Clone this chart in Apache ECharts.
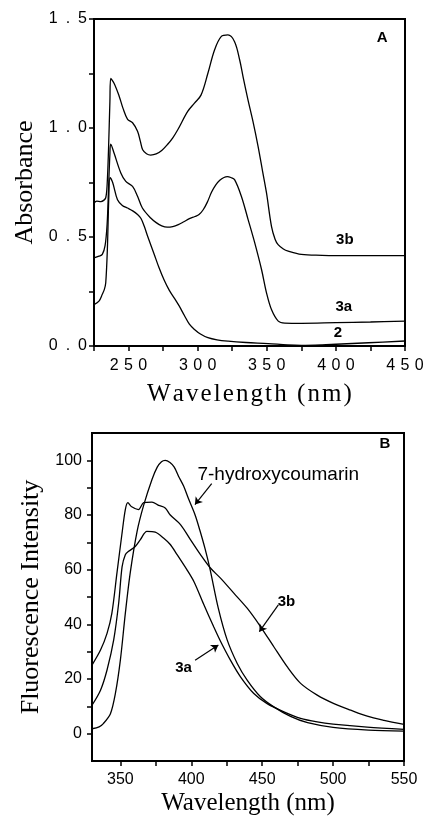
<!DOCTYPE html>
<html><head><meta charset="utf-8">
<script src="https://cdn.jsdelivr.net/npm/echarts@6/dist/echarts.min.js"></script>
<style>html,body{margin:0;padding:0;background:#fff}#c{width:423px;height:823px}</style>
</head><body><div id="c"></div>
<script>
// ---- Panel A: UV-Vis absorbance ----
const uvX3b = [225, 227, 230, 232, 233.5, 234.5, 235.5, 236.5, 237.1, 239.5, 243.2, 246, 249.3, 252.9, 256.5, 258.5, 260.2, 263, 266, 270, 274, 278, 282, 285.6, 292.8, 297.7, 302.5, 307.4, 312.2, 317, 321.9, 326.7, 330.4, 333, 336.4, 340, 343.7, 347, 349.8, 353.4, 356, 358.2, 362, 365.5, 375, 390, 400, 420, 450];
const uvY3b = [0.655, 0.665, 0.662, 0.668, 0.68, 0.74, 0.90, 1.12, 1.227, 1.205, 1.146, 1.09, 1.04, 1.024, 0.985, 0.94, 0.90, 0.882, 0.876, 0.881, 0.897, 0.923, 0.955, 0.992, 1.076, 1.114, 1.152, 1.251, 1.358, 1.419, 1.427, 1.396, 1.312, 1.23, 1.129, 1.03, 0.916, 0.80, 0.702, 0.549, 0.49, 0.465, 0.445, 0.435, 0.42, 0.416, 0.415, 0.415, 0.415];
const uvX3a = [225, 228.6, 231, 233, 234.5, 235.5, 236.5, 237.1, 239.5, 244.4, 248, 252.9, 256.5, 260, 266, 270, 274, 278, 282, 286, 290, 294, 298, 301, 304, 307, 310, 313, 316, 319, 321.5, 324, 326.7, 331.6, 336.5, 341.3, 346.2, 349.8, 353.4, 358.3, 363, 375, 400, 425, 450];
const uvY3a = [0.404, 0.412, 0.42, 0.46, 0.56, 0.72, 0.88, 0.926, 0.885, 0.794, 0.755, 0.732, 0.687, 0.633, 0.587, 0.566, 0.551, 0.545, 0.548, 0.557, 0.57, 0.584, 0.594, 0.603, 0.625, 0.66, 0.705, 0.738, 0.76, 0.773, 0.777, 0.773, 0.763, 0.687, 0.58, 0.473, 0.351, 0.244, 0.167, 0.114, 0.105, 0.104, 0.107, 0.11, 0.114];
const uvX2 = [225, 228.6, 231, 232.5, 233.5, 234.7, 235.7, 236.6, 238.5, 242, 245.5, 249.2, 253, 256.5, 259, 261.3, 264, 268.6, 272, 275.9, 279.5, 283.1, 286.5, 290.4, 294, 297.7, 302, 307.4, 314, 322, 335, 351, 365, 375, 390, 400, 423.6, 450];
const uvY2 = [0.19, 0.206, 0.237, 0.26, 0.29, 0.45, 0.68, 0.772, 0.75, 0.671, 0.645, 0.633, 0.62, 0.603, 0.585, 0.55, 0.50, 0.42, 0.36, 0.30, 0.255, 0.22, 0.185, 0.14, 0.10, 0.076, 0.055, 0.038, 0.028, 0.022, 0.016, 0.011, 0.005, 0.003, 0.005, 0.008, 0.015, 0.023];

// ---- Panel B: fluorescence ----
const flX7hc = [330, 335, 338, 343, 346.5, 350, 353.5, 357, 361.8, 366.4, 372.3, 376, 379, 381.6, 385, 388, 391, 394.6, 398, 402.7, 406, 409.8, 413.3, 419, 425.3, 432.4, 439.4, 448.8, 458.2, 470, 482, 500, 525, 550];
const fl7hc = [1.8, 2.5, 3.7, 7.3, 14.7, 26.9, 44, 59, 74, 83.5, 93, 97.5, 99.5, 100, 99.2, 97.5, 94.2, 90.6, 86, 80, 74.5, 67.5, 60, 46, 34.3, 25.7, 19.6, 13.5, 9.8, 6.3, 4.0, 2.3, 1.3, 0.9];
const flX3b = [330, 336, 340.6, 344, 347.6, 351.2, 353.5, 355.3, 358, 362.8, 366.4, 372.3, 377, 381.6, 385.2, 392.4, 399.4, 406.5, 413.5, 420.6, 430, 439.4, 448.8, 458.2, 467.6, 477.1, 488.8, 500.6, 512.4, 524.1, 535.9, 550];
const fl3b = [25.1, 30.6, 36.7, 44, 58.8, 73.4, 82, 84.5, 83, 82, 84.5, 84.7, 83.5, 82.6, 80, 76.5, 71, 65.5, 60.6, 56.9, 51.4, 45.9, 39.2, 31.8, 24.5, 18.4, 14.1, 11, 8.6, 6.4, 4.9, 3.4];
const flX3a = [330, 336, 340.6, 345.3, 348.8, 351.2, 353.5, 355.8, 360.5, 364.1, 368.7, 374.6, 380.4, 385.2, 390, 396.9, 402, 408.6, 415.9, 420.6, 427.6, 434.7, 444.1, 453.5, 465.3, 477.1, 488.8, 500, 524, 550];
const fl3a = [10.4, 15.9, 23.3, 34.3, 47.7, 61, 65.5, 66.7, 68.5, 71, 74, 73.7, 71.6, 69.2, 65.5, 60, 55.5, 47.5, 39, 33.8, 26.9, 20.8, 14.7, 11, 8, 5.6, 4.3, 3.5, 2.4, 1.6];

// tick labels
const uvXLabels = [250, 300, 350, 400, 450];
const uvYLabels = [0, 0.5, 1.0, 1.5];
const flXLabels = [350, 400, 450, 500, 550];
const flXTicks = [350, 375, 400, 425, 450, 475, 500, 525, 550];
const flYLabels = [0, 20, 40, 60, 80, 100];
const flYTicks = [0, 10, 20, 30, 40, 50, 60, 70, 80, 90, 100];

function zip(xs, ys) { return xs.map((x, i) => [x, ys[i]]); }
const sp = s => String(s).split('').join('\u2004');
const spY = s => String(s).split('').join('\u2002');
const hair = s => String(s).split('').join('\u200A');

const BLACK = '#000';
const axisLine = { show: true, onZero: false, lineStyle: { color: BLACK, width: 2 } };
const tick = { show: true, inside: false, length: 5, lineStyle: { color: BLACK, width: 1.5 } };
const sans = 'Liberation Sans, Arial, sans-serif';
const serif = 'Liberation Serif, Times New Roman, serif';

function lineSeries(xi, data, extra) {
  return Object.assign({
    type: 'line', xAxisIndex: xi, yAxisIndex: xi, data: data,
    showSymbol: false, symbol: 'none', smooth: 0.35, silent: true, animation: false,
    lineStyle: { color: BLACK, width: 1.3 }, itemStyle: { color: BLACK }
  }, extra || {});
}
function textMark(items, size, weight) {
  return {
    symbol: 'rect', symbolSize: 1, silent: true, animation: false,
    itemStyle: { color: 'rgba(0,0,0,0)' },
    label: { show: true, position: 'inside', color: BLACK, fontFamily: sans, fontSize: size, fontWeight: weight },
    data: items.map(it => ({ coord: it.c, label: { formatter: it.t } }))
  };
}
function arrowMark(pairs) {
  return {
    symbol: ['none', 'arrow'], symbolSize: 7, silent: true, animation: false,
    lineStyle: { type: 'solid', color: BLACK, width: 1.2 }, itemStyle: { color: BLACK },
    label: { show: false },
    data: pairs.map(p => [{ coord: p[0] }, { coord: p[1] }])
  };
}

const chart = echarts.init(document.getElementById('c'), null, { renderer: 'canvas' });
chart.setOption({
  animation: false,
  backgroundColor: '#fff',
  grid: [
    { left: 94, top: 19, width: 311, height: 327, show: true, borderColor: BLACK, borderWidth: 2, backgroundColor: 'rgba(0,0,0,0)', containLabel: false, outerBoundsMode: 'none' },
    { left: 92, top: 433, width: 312, height: 328, show: true, borderColor: BLACK, borderWidth: 2, backgroundColor: 'rgba(0,0,0,0)', containLabel: false, outerBoundsMode: 'none' }
  ],
  xAxis: [
    { type: 'value', gridIndex: 0, min: 225, max: 450, interval: 25,
      axisLine: axisLine, axisTick: tick, splitLine: { show: false },
      axisLabel: { color: BLACK, fontFamily: sans, fontSize: 16, margin: 12, showMinLabel: true, showMaxLabel: true,
        formatter: v => uvXLabels.indexOf(v) >= 0 ? sp(v) : '' },
      name: hair('Wavelength (nm)'), nameLocation: 'middle', nameGap: 36,
      nameTextStyle: { color: BLACK, fontFamily: serif, fontSize: 25 } },
    { type: 'value', gridIndex: 1, min: 330, max: 550,
      axisLine: axisLine, splitLine: { show: false },
      axisTick: Object.assign({}, tick, { customValues: flXTicks }),
      axisLabel: { color: BLACK, fontFamily: sans, fontSize: 16, margin: 11, customValues: flXLabels },
      name: 'Wavelength (nm)', nameLocation: 'middle', nameGap: 30,
      nameTextStyle: { color: BLACK, fontFamily: serif, fontSize: 25 } }
  ],
  yAxis: [
    { type: 'value', gridIndex: 0, min: 0, max: 1.5, interval: 0.5,
      axisLine: axisLine, axisTick: tick, splitLine: { show: false },
      minorTick: { show: true, splitNumber: 2, length: 5, lineStyle: { color: BLACK, width: 1.5 } },
      axisLabel: { color: BLACK, fontFamily: sans, fontSize: 16, margin: 7,
        formatter: v => spY(v.toFixed(1)) },
      name: 'Absorbance', nameLocation: 'middle', nameGap: 56,
      nameTextStyle: { color: BLACK, fontFamily: serif, fontSize: 26 } },
    { type: 'value', gridIndex: 1, min: -10, max: 110,
      axisLine: axisLine, splitLine: { show: false },
      axisTick: Object.assign({}, tick, { customValues: flYTicks }),
      axisLabel: { color: BLACK, fontFamily: sans, fontSize: 16, margin: 10, customValues: flYLabels },
      name: 'Fluorescence Intensity', nameLocation: 'middle', nameGap: 43,
      nameTextStyle: { color: BLACK, fontFamily: serif, fontSize: 26 } }
  ],
  series: [
    lineSeries(0, zip(uvX3b, uvY3b), { name: '3b', markPoint: textMark([{ c: [406.5, 0.489], t: '3b' }, { c: [433.4, 1.415], t: 'A' }], 15, 'bold') }),
    lineSeries(0, zip(uvX3a, uvY3a), { name: '3a', markPoint: textMark([{ c: [405.7, 0.181], t: '3a' }], 15, 'bold') }),
    lineSeries(0, zip(uvX2, uvY2), { name: '2', markPoint: textMark([{ c: [401.4, 0.062], t: '2' }], 15, 'bold') }),
    lineSeries(1, zip(flX7hc, fl7hc), { name: '7-hydroxycoumarin', smooth: 0.3,
      markPoint: {
        symbol: 'rect', symbolSize: 1, silent: true, animation: false, itemStyle: { color: 'rgba(0,0,0,0)' },
        label: { show: true, position: 'right', distance: 0, color: BLACK, fontFamily: sans, fontSize: 19 },
        data: [{ coord: [404, 94.6], label: { formatter: '7-hydroxycoumarin' } }]
      },
      markLine: arrowMark([[[414.4, 91.5], [402.6, 83.8]]]) }),
    lineSeries(1, zip(flX3b, fl3b), { name: '3b ', smooth: 0.3,
      markPoint: textMark([{ c: [467.1, 48.3], t: '3b' }, { c: [536.6, 105.9], t: 'B' }], 15, 'bold'),
      markLine: arrowMark([[[461.4, 47.1], [448, 37.3]]]) }),
    lineSeries(1, zip(flX3a, fl3a), { name: '3a ', smooth: 0.3,
      markPoint: textMark([{ c: [394.5, 23.9], t: '3a' }], 15, 'bold'),
      markLine: arrowMark([[[402.7, 26.9], [419.1, 32.4]]]) })
  ]
});
</script>
</body></html>
